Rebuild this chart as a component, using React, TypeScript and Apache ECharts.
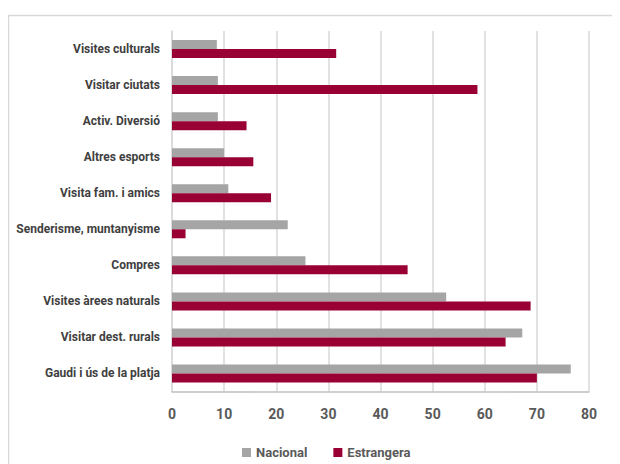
import React, { useEffect, useRef } from "react";
import * as echarts from "echarts";

const categories = [
  "Visites culturals",
  "Visitar ciutats",
  "Activ. Diversió",
  "Altres esports",
  "Visita fam. i amics",
  "Senderisme, muntanyisme",
  "Compres",
  "Visites àrees naturals",
  "Visitar dest. rurals",
  "Gaudi i ús de la platja",
];
const nacional = [8.6, 8.8, 8.8, 10.0, 10.8, 22.2, 25.6, 52.6, 67.2, 76.5];
const estrangera = [31.5, 58.6, 14.3, 15.6, 19.0, 2.6, 45.2, 68.8, 64.0, 70.0];
const seriesNames = ["Nacional", "Estrangera"];
const xTicks = { min: 0, max: 80, interval: 10 };

const FONT = "Roboto, 'DejaVu Sans Condensed', sans-serif";

export default function App() {
  const ref = useRef<HTMLDivElement>(null);
  useEffect(() => {
    if (!ref.current) return;
    const chart = echarts.init(ref.current, null, { renderer: "svg" });
    chart.setOption({
      animation: false,
      graphic: [
        {
          type: "rect",
          shape: { x: 0.5, y: 7.5, width: 700, height: 600 },
          style: { fill: "none", stroke: "#d9d9d9", lineWidth: 1.5 },
          silent: true,
          z: -1,
        },
      ],
      grid: {
        left: 164,
        right: 31,
        top: 23,
        bottom: 72.5,
        containLabel: false,
        outerBoundsMode: "none",
      },
      legend: {
        data: seriesNames,
        left: 229,
        top: 433,
        itemWidth: 9,
        itemHeight: 9,
        itemGap: 26,
        icon: "rect",
        textStyle: { fontFamily: FONT, fontWeight: "bold", fontSize: 13, color: "#595959" },
      },
      xAxis: {
        type: "value",
        min: xTicks.min,
        max: xTicks.max,
        interval: xTicks.interval,
        axisLine: { show: true, lineStyle: { color: "#bfbfbf", width: 1.5 } },
        axisTick: { show: false },
        splitLine: { show: true, lineStyle: { color: "#d9d9d9", width: 1.5 } },
        axisLabel: {
          margin: 15,
          fontFamily: FONT,
          fontWeight: "bold",
          fontSize: 14,
          color: "#595959",
        },
      },
      yAxis: {
        type: "category",
        data: categories,
        inverse: true,
        axisLine: { show: true, lineStyle: { color: "#d9d9d9", width: 1.5 } },
        axisTick: { show: false },
        axisLabel: {
          margin: 12,
          fontFamily: FONT,
          fontWeight: "bold",
          fontSize: 12,
          color: "#404040",
        },
      },
      series: [
        {
          name: seriesNames[0],
          type: "bar",
          data: nacional,
          barWidth: 9,
          barGap: "0%",
          itemStyle: { color: "#a5a5a5" },
        },
        {
          name: seriesNames[1],
          type: "bar",
          data: estrangera,
          barWidth: 9,
          barGap: "0%",
          itemStyle: { color: "#990033" },
        },
      ],
    });
    return () => chart.dispose();
  }, []);
  return <div ref={ref} style={{ width: 612, height: 456 }} />;
}
